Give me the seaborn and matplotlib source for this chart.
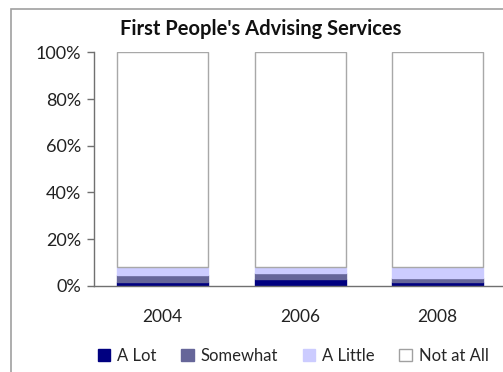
import numpy as np
import pandas as pd
import matplotlib
matplotlib.use("Agg")
import matplotlib.pyplot as plt
import matplotlib.patches as mpatches
import seaborn as sns

years = ["2004", "2006", "2008"]
series = ["A Lot", "Somewhat", "A Little", "Not at All"]
a_lot = [1.6, 2.8, 1.6]
somewhat = [3.2, 2.5, 1.8]
a_little = [3.4, 2.6, 4.6]
not_at_all = [91.8, 92.1, 92.0]
colors = ["#000080", "#666699", "#CCCCFF", "#FFFFFF"]
yticks = [0, 20, 40, 60, 80, 100]
ytick_labels = ["0%", "20%", "40%", "60%", "80%", "100%"]
title = "First People's Advising Services"

sns.set_theme(style="white")
plt.rcParams['font.family'] = ['Lato', 'DejaVu Sans']

fig = plt.figure(figsize=(5.03, 3.72), dpi=100)
ax = fig.add_axes([94/503, 86.3/372, 412.5/503, 233.3/372])

vals = [a_lot, somewhat, a_little, not_at_all]
bottom = np.zeros(len(years))
for name, v, c in zip(series, vals, colors):
    df = pd.DataFrame({"year": years, "value": v})
    ec = "#A8A8A8" if name == "Not at All" else c
    sns.barplot(data=df, x="year", y="value", bottom=bottom, color=c, width=0.66,
                edgecolor=ec, linewidth=1.0, saturation=1, ax=ax, label=name)
    bottom = bottom + np.array(v)

ax.set_ylim(0, 100)
ax.set_xlim(-0.5, 2.5)
ax.set_yticks(yticks)
ax.set_yticklabels(ytick_labels, fontsize=13, color="#222222")
ax.tick_params(axis="x", labelsize=12.5, length=0, pad=17, colors="#222222")
ax.tick_params(axis="y", length=5, width=1, color="#707070", direction="out", pad=4, left=True)
ax.set_xlabel("")
ax.set_ylabel("")
for s in ["top", "right"]:
    ax.spines[s].set_visible(False)
for s in ["left", "bottom"]:
    ax.spines[s].set_color("#707070")
    ax.spines[s].set_linewidth(1)
if ax.legend_:
    ax.legend_.remove()

handles = [mpatches.Patch(facecolor=c, edgecolor=("#A0A0A0" if c == "#FFFFFF" else c), label=n)
           for n, c in zip(series, colors)]
fig.legend(handles=handles, loc="center", bbox_to_anchor=(293/503, 16/372), ncol=4,
           frameon=False, fontsize=12, handlelength=0.75, handleheight=0.75,
           handletextpad=0.4, columnspacing=1.5)

fig.text(261/503, 1 - 29/372, title, ha="center", va="center", fontsize=14.5, fontweight="bold",
         color="#111111")

border = mpatches.Rectangle((11/503, -0.1), 1.0, 1 - 9/372 + 0.1, transform=fig.transFigure,
                            fill=False, edgecolor="#A0A0A0", linewidth=1.2, clip_on=False)
fig.patches.append(border)

fig.savefig("out.png", dpi=100)
